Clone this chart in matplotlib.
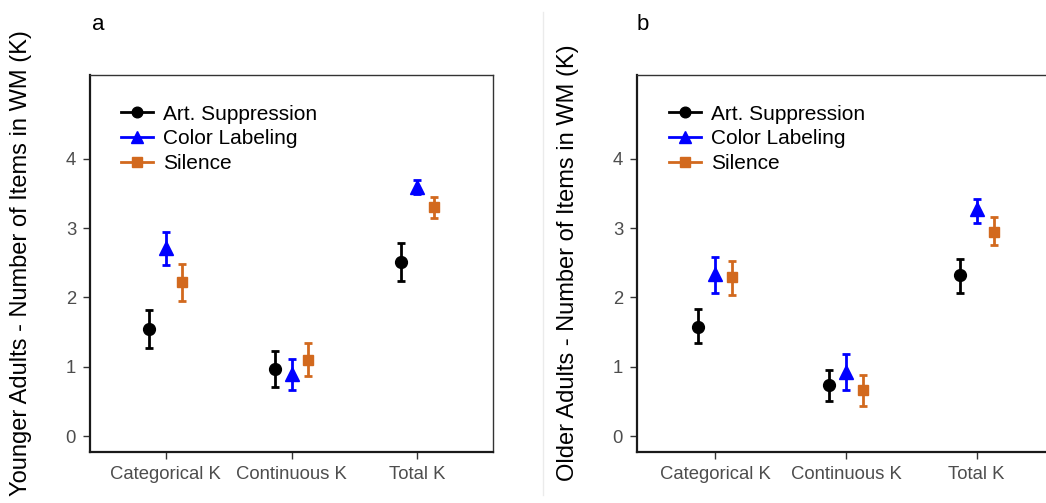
import matplotlib
matplotlib.use("Agg")
import matplotlib.pyplot as plt
from matplotlib.lines import Line2D
import numpy as np

plt.rcParams['font.family'] = ['Liberation Sans', 'DejaVu Sans']

categories = ["Categorical K", "Continuous K", "Total K"]
conditions = ["Art. Suppression", "Color Labeling", "Silence"]

# Younger adults: means and error-bar limits per condition
young_mean = {
    "Art. Suppression": [1.54, 0.97, 2.51],
    "Color Labeling":   [2.71, 0.89, 3.60],
    "Silence":          [2.22, 1.10, 3.30],
}
young_low = {
    "Art. Suppression": [1.27, 0.71, 2.24],
    "Color Labeling":   [2.47, 0.67, 3.49],
    "Silence":          [1.95, 0.86, 3.14],
}
young_high = {
    "Art. Suppression": [1.82, 1.23, 2.78],
    "Color Labeling":   [2.94, 1.11, 3.69],
    "Silence":          [2.48, 1.35, 3.45],
}

# Older adults
old_mean = {
    "Art. Suppression": [1.58, 0.74, 2.32],
    "Color Labeling":   [2.34, 0.93, 3.27],
    "Silence":          [2.29, 0.66, 2.95],
}
old_low = {
    "Art. Suppression": [1.34, 0.51, 2.07],
    "Color Labeling":   [2.07, 0.66, 3.08],
    "Silence":          [2.03, 0.44, 2.76],
}
old_high = {
    "Art. Suppression": [1.83, 0.96, 2.55],
    "Color Labeling":   [2.59, 1.19, 3.42],
    "Silence":          [2.53, 0.88, 3.16],
}

colors = {"Art. Suppression": "#000000", "Color Labeling": "#0000FF", "Silence": "#D2691E"}
markers = {"Art. Suppression": "o", "Color Labeling": "^", "Silence": "s"}
msizes = {"Art. Suppression": 8.5, "Color Labeling": 10, "Silence": 7.8}
dodge = {"Art. Suppression": -0.13, "Color Labeling": 0.0, "Silence": 0.13}

W, H = 1046, 503
fig = plt.figure(figsize=(W / 100, H / 100), dpi=100)

def px_axes(left, right, top, bottom):
    return fig.add_axes([left / W, 1 - bottom / H, (right - left) / W, (bottom - top) / H])

ax_a = px_axes(90, 493, 75, 452)
ax_b = px_axes(637, 1055, 75, 452)

def draw_panel(ax, means, lows, highs, ylabel, label_px):
    x = np.arange(1, len(categories) + 1)
    for cond in conditions:
        m = np.array(means[cond])
        lo = m - np.array(lows[cond])
        hi = np.array(highs[cond]) - m
        ax.errorbar(x + dodge[cond], m, yerr=[lo, hi], fmt=markers[cond],
                    color=colors[cond], ms=msizes[cond], elinewidth=2,
                    capsize=3.2, capthick=2, zorder=3)
    ax.set_xlim(0.4, 3.6)
    ax.set_ylim(-0.23, 5.21)
    ax.set_xticks(x)
    ax.set_xticklabels(categories)
    ax.set_yticks([0, 1, 2, 3, 4])
    ax.tick_params(axis='both', colors='#333333', labelcolor='#4D4D4D',
                   labelsize=13.3, length=5, width=1, pad=5)
    for side in ['top', 'right']:
        ax.spines[side].set_linewidth(1.0)
        ax.spines[side].set_color('#333333')
    for side in ['left', 'bottom']:
        ax.spines[side].set_linewidth(1.6)
        ax.spines[side].set_color('#1a1a1a')
    fig.text(label_px / W, 1 - 263 / H, ylabel, fontsize=17, rotation=90,
             ha='center', va='center', color='black')

    handles = [Line2D([], [], color=colors[c], marker=markers[c], ms=msizes[c] * 0.9,
                      lw=2) for c in conditions]
    ax.legend(handles, conditions, loc='upper left', bbox_to_anchor=(0.077, 0.921),
              frameon=False, fontsize=15, handlelength=1.55, handletextpad=0.45,
              labelspacing=0.27, borderpad=0, borderaxespad=0)

draw_panel(ax_a, young_mean, young_low, young_high,
           "Younger Adults - Number of Items in WM (K)", 21)
draw_panel(ax_b, old_mean, old_low, old_high,
           "Older Adults - Number of Items in WM (K)", 568)

fig.text(92 / W, 1 - 25 / H, "a", fontsize=16, va='center', ha='left')
fig.text(637 / W, 1 - 25 / H, "b", fontsize=16, va='center', ha='left')

# thin divider between the two panels
fig.add_artist(Line2D([543 / W, 543 / W], [1 - 495 / H, 1 - 12 / H],
                      transform=fig.transFigure, color='#EBEBEB', lw=1))

fig.savefig("out.png", dpi=100)
